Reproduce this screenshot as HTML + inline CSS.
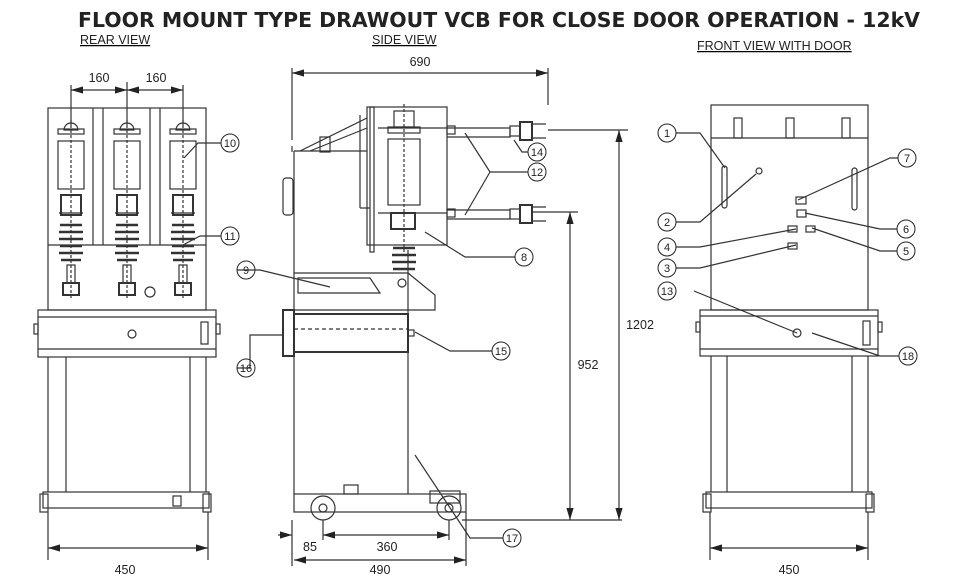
<!DOCTYPE html>
<html><head><style>
html,body{margin:0;padding:0;background:#fff;}
svg{display:block;}
text{font-family:"Liberation Sans",sans-serif;fill:#222;}
</style></head><body>
<svg width="958" height="578" viewBox="0 0 958 578" xmlns="http://www.w3.org/2000/svg">
<defs>
<marker id="a" viewBox="0 0 10 6" refX="10" refY="3" markerWidth="10" markerHeight="6" orient="auto-start-reverse"><path d="M0,0L10,3L0,6z" fill="#222"/></marker>
</defs>
<text x="499" y="27" text-anchor="middle" font-size="20" font-weight="bold" textLength="842" lengthAdjust="spacingAndGlyphs" style="font-family:'DejaVu Sans',sans-serif" fill="#222">FLOOR MOUNT TYPE DRAWOUT VCB FOR CLOSE DOOR OPERATION - 12kV</text>
<g font-size="12.5" text-decoration="underline">
<text x="80" y="44">REAR VIEW</text>
<text x="372" y="44">SIDE VIEW</text>
<text x="697" y="50">FRONT VIEW WITH DOOR</text>
</g>
<g stroke="#333" stroke-width="1.2" fill="none">
<!-- REAR VIEW -->
<rect x="48" y="108" width="158" height="202"/>
<path d="M48,245H206 M93,108V245 M103,108V245 M150,108V245 M160,108V245"/>
<line x1="71" y1="90" x2="127" y2="90" marker-start="url(#a)" marker-end="url(#a)"/>
<line x1="127" y1="90" x2="183" y2="90" marker-start="url(#a)" marker-end="url(#a)"/>
<path d="M71,85V125 M127,82V125 M183,85V125"/>
<g id="pole">
<path d="M64,130a7,7 0 0 1 14,0z" />
<rect x="58" y="129" width="26" height="5"/>
<rect x="58" y="141" width="26" height="48"/>
<rect x="61" y="195" width="20" height="20" stroke-width="2"/>
<path d="M59,213H83"/>
<g stroke-width="2.5"><path d="M60,225H82 M59,232H83 M59,239H83 M60,246H82 M59,253H83 M61,260H81"/></g>
<rect x="67" y="265" width="8" height="18"/>
<rect x="63" y="283" width="16" height="12" stroke-width="2"/>
<path d="M71,120V300" stroke-dasharray="3,2"/>
</g>
<use href="#pole" x="56"/>
<use href="#pole" x="112"/>
<circle cx="150" cy="292" r="5"/>
<rect x="38" y="310" width="178" height="47"/>
<path d="M38,317H216 M38,349H216"/>
<circle cx="132" cy="334" r="4"/>
<rect x="201" y="322" width="7" height="22"/>
<rect x="34" y="324" width="4" height="10"/><rect x="216" y="324" width="4" height="10"/>
<path d="M48,357V492 M66,357V492 M190,357V492 M206,357V492"/>
<rect x="43" y="492" width="166" height="16"/>
<rect x="40" y="494" width="8" height="18"/><rect x="203" y="494" width="8" height="18"/>
<rect x="173" y="496" width="8" height="10"/>
<path d="M48,512V560 M208,512V560"/>
<line x1="48" y1="548" x2="208" y2="548" marker-start="url(#a)" marker-end="url(#a)"/>
<path d="M221,143H198L184,158 M221,236H200L183,245"/>

<!-- SIDE VIEW -->
<line x1="292" y1="73" x2="548" y2="73" marker-start="url(#a)" marker-end="url(#a)"/>
<path d="M292,68V140 M548,68V105"/>
<path d="M294,151V494 M408,250V494 M294,151H367"/>
<path d="M292,152V146"/>
<rect x="283" y="178" width="10" height="37" rx="3"/>
<rect x="320" y="137" width="10" height="15"/>
<path d="M300,151L367,118 M310,151L367,128"/>
<rect x="367" y="107" width="80" height="138"/>
<rect x="370" y="107" width="4" height="145"/>
<path d="M360,115V208 M360,208H370"/>
<rect x="394" y="111" width="20" height="16"/>
<rect x="388" y="127" width="32" height="6"/>
<rect x="388" y="139" width="32" height="66"/>
<rect x="391" y="213" width="24" height="16" stroke-width="2"/>
<path d="M404,104V255" stroke-dasharray="3,2"/>
<path d="M378,128H447 M378,213H447"/>
<path d="M447,128H510V137H447 M447,210H510V219H447"/>
<rect x="447" y="126" width="8" height="8"/><rect x="447" y="209" width="8" height="8"/>
<rect x="510" y="126" width="10" height="10"/><rect x="510" y="209" width="10" height="10"/>
<rect x="520" y="122" width="12" height="18" stroke-width="2"/><rect x="520" y="205" width="12" height="18" stroke-width="2"/>
<path d="M532,124h14 M532,138h14 M532,207h14 M532,221h14"/>
<g stroke-width="2.5"><path d="M393,248H415 M392,255H416 M392,262H416 M393,269H415"/></g>
<circle cx="402" cy="283" r="4"/>
<path d="M294,273H408L435,295V310H294"/>
<path d="M298,278H370L380,293H298z"/>
<rect x="294" y="314" width="114" height="38" stroke-width="2"/>
<path d="M294,329H408" stroke-dasharray="4,3"/>
<rect x="283" y="310" width="11" height="46" stroke-width="2"/>
<rect x="408" y="330" width="6" height="6"/>
<rect x="294" y="494" width="172" height="18"/>
<circle cx="323" cy="508" r="12"/><circle cx="323" cy="508" r="4"/>
<circle cx="449" cy="508" r="12"/><circle cx="449" cy="508" r="4"/>
<rect x="430" y="491" width="30" height="12"/>
<rect x="344" y="485" width="14" height="9"/>
<path d="M292,520V566 M466,512V566 M323,520V540 M449,520V540"/>
<line x1="323" y1="535" x2="449" y2="535" marker-start="url(#a)" marker-end="url(#a)"/>
<line x1="278" y1="535" x2="292" y2="535" marker-end="url(#a)"/>
<line x1="294" y1="560" x2="466" y2="560" marker-start="url(#a)" marker-end="url(#a)"/>
<path d="M462,520H570 M462,520H622 M532,212H578 M548,130H628"/>
<line x1="570" y1="212" x2="570" y2="520" marker-start="url(#a)" marker-end="url(#a)"/>
<line x1="619" y1="130" x2="619" y2="520" marker-start="url(#a)" marker-end="url(#a)"/>
<path d="M528,152H522L514,140 M528,172H490L465,133 M490,172L465,215 M515,257H465L425,232 M237,270H260L330,287 M492,351H450L415,332 M237,368H250V335H283 M503,538H470L415,455"/>

<!-- FRONT VIEW -->
<rect x="711" y="105" width="157" height="205"/>
<path d="M711,138H868"/>
<rect x="734" y="118" width="8" height="20"/><rect x="786" y="118" width="8" height="20"/><rect x="842" y="118" width="8" height="20"/>
<rect x="722" y="166" width="5" height="42" rx="2.5"/><rect x="852" y="168" width="5" height="42" rx="2.5"/>
<circle cx="759" cy="171" r="3"/>
<rect x="796" y="197" width="10" height="7"/><rect x="797" y="210" width="9" height="7"/>
<rect x="788" y="226" width="9" height="6"/><rect x="806" y="226" width="9" height="6"/><rect x="788" y="243" width="9" height="6"/>
<rect x="700" y="310" width="178" height="46"/>
<path d="M700,316H878 M700,349H878"/>
<circle cx="797" cy="333" r="4"/>
<rect x="863" y="321" width="7" height="24"/>
<rect x="696" y="322" width="4" height="10"/><rect x="878" y="322" width="4" height="10"/>
<path d="M711,356V492 M727,356V492 M852,356V492 M868,356V492"/>
<rect x="706" y="492" width="166" height="16"/>
<rect x="703" y="494" width="8" height="18"/><rect x="866" y="494" width="8" height="18"/>
<path d="M710,512V560 M868,512V560"/>
<line x1="710" y1="548" x2="868" y2="548" marker-start="url(#a)" marker-end="url(#a)"/>
<path d="M676,133H700L725,168 M676,222H700L756,174 M676,247H700L796,229 M676,268H700L796,245 M694,291L797,333 M898,158H890L798,200 M897,229H880L805,213 M897,251H880L812,228 M899,356H880L812,333"/>
</g>
<g fill="none" stroke="#222" stroke-width="1">
<circle cx="230" cy="143" r="9"/><circle cx="230" cy="236" r="9"/><circle cx="246" cy="270" r="9"/><circle cx="246" cy="368" r="9"/>
<circle cx="537" cy="152" r="9"/><circle cx="537" cy="172" r="9"/><circle cx="524" cy="257" r="9"/><circle cx="501" cy="351" r="9"/><circle cx="512" cy="538" r="9"/>
<circle cx="667" cy="133" r="9"/><circle cx="667" cy="222" r="9"/><circle cx="667" cy="247" r="9"/><circle cx="667" cy="268" r="9"/><circle cx="667" cy="291" r="9"/>
<circle cx="907" cy="158" r="9"/><circle cx="906" cy="229" r="9"/><circle cx="906" cy="251" r="9"/><circle cx="908" cy="356" r="9"/>
</g>
<g font-size="11" text-anchor="middle">
<text x="230" y="147">10</text><text x="230" y="240">11</text><text x="246" y="274">9</text><text x="246" y="372">16</text>
<text x="537" y="156">14</text><text x="537" y="176">12</text><text x="524" y="261">8</text><text x="501" y="355">15</text><text x="512" y="542">17</text>
<text x="667" y="137">1</text><text x="667" y="226">2</text><text x="667" y="251">4</text><text x="667" y="272">3</text><text x="667" y="295">13</text>
<text x="907" y="162">7</text><text x="906" y="233">6</text><text x="906" y="255">5</text><text x="908" y="360">18</text>
</g>
<g font-size="12.5" text-anchor="middle">
<text x="99" y="82">160</text><text x="156" y="82">160</text>
<text x="420" y="66">690</text>
<text x="125" y="574">450</text>
<text x="380" y="574">490</text>
<text x="310" y="551">85</text><text x="387" y="551">360</text>
<text x="588" y="369">952</text>
<text x="640" y="329">1202</text>
<text x="789" y="574">450</text>
</g>
</svg>
</body></html>
